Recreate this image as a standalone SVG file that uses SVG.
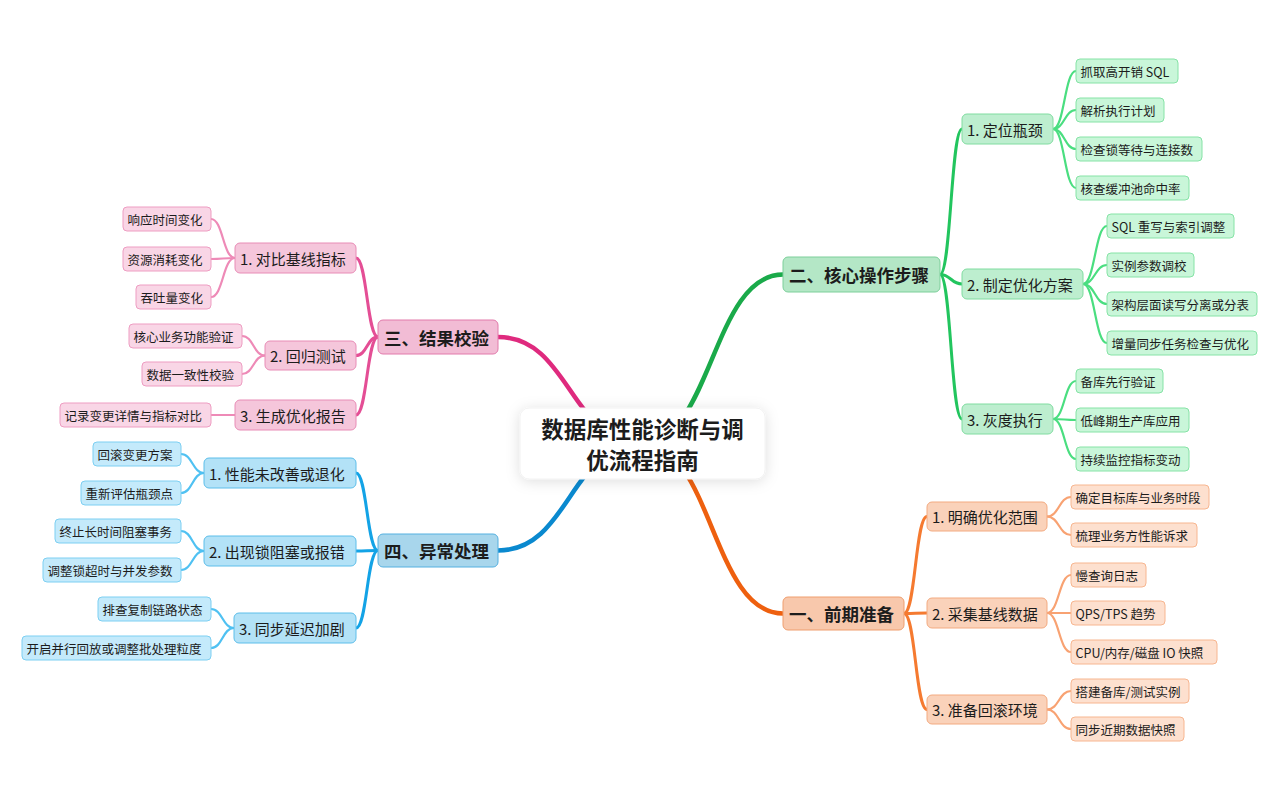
<svg xmlns="http://www.w3.org/2000/svg" width="1280" height="801" viewBox="0 0 1280 801">
<defs>
<filter id="sh" x="-20%" y="-40%" width="140%" height="180%">
<feDropShadow dx="0" dy="2" stdDeviation="7" flood-color="#000" flood-opacity="0.13"/>
</filter>
<style>
text{font-family:"Noto Sans CJK SC","Noto Sans",sans-serif;fill:#1c1c1c;text-anchor:start;dominant-baseline:central}
.t0{font-size:22.5px;font-weight:700;text-anchor:middle}
.t1{font-size:17.5px;font-weight:700}
.t2{font-size:15px}
.t3{font-size:12.5px}
rect{stroke-width:1}
path{fill:none;stroke-linecap:round}
.gm{stroke:#1aaa4a;stroke-width:4.5}.g2{stroke:#22c55e;stroke-width:3}.g3{stroke:#4ade80;stroke-width:2.2}
.om{stroke:#ee600f;stroke-width:4.5}.o2{stroke:#f57a30;stroke-width:3}.o3{stroke:#f8a272;stroke-width:2.2}
.pm{stroke:#df2a7e;stroke-width:4.5}.p2{stroke:#e44e95;stroke-width:3}.p3{stroke:#ee8ab7;stroke-width:2.2}
.bm{stroke:#0a89cf;stroke-width:4.5}.b2{stroke:#13a3e6;stroke-width:3}.b3{stroke:#4fc1f2;stroke-width:2.2}
.G1{fill:#b4e7c6;stroke:#7ccf9a}.G2{fill:#bdeecf;stroke:#80dca0}.G3{fill:#c9f6d9;stroke:#86e3a6}
.O1{fill:#f8c8ac;stroke:#ef9e6e}.O2{fill:#fad2ba;stroke:#f3aa80}.O3{fill:#fde0cf;stroke:#f7b690}
.P1{fill:#f2bcd5;stroke:#e27aab}.P2{fill:#f5c6db;stroke:#e88cb6}.P3{fill:#f9d6e6;stroke:#ee9dc2}
.B1{fill:#a8d6ec;stroke:#55b0e0}.B2{fill:#b3e2f7;stroke:#5cbeea}.B3{fill:#c4eafb;stroke:#7dcff2}
</style>
</defs>
<rect width="1280" height="801" fill="#ffffff"/>
<g id="connectors">
<path class="gm" d="M642,443 C712,443 712,274.5 783,274.5"/>
<path class="om" d="M642,443 C712,443 712,613.5 783,613.5"/>
<path class="pm" d="M642,443 C570,443 570,337 498,337"/>
<path class="bm" d="M642,443 C570,443 570,550.5 498,550.5"/>
<path class="g2" d="M940,274.5 C951,274.5 951,129 962,129"/>
<path class="g2" d="M940,274.5 C951,274.5 951,284 962,284"/>
<path class="g2" d="M940,274.5 C951,274.5 951,419 962,419"/>
<path class="g3" d="M1053,129 C1064.5,129 1064.5,71 1076,71"/>
<path class="g3" d="M1053,129 C1064.5,129 1064.5,110 1076,110"/>
<path class="g3" d="M1053,129 C1064.5,129 1064.5,149 1076,149"/>
<path class="g3" d="M1053,129 C1064.5,129 1064.5,188 1076,188"/>
<path class="g3" d="M1083,284 C1095,284 1095,226 1107,226"/>
<path class="g3" d="M1083,284 C1095,284 1095,265 1107,265"/>
<path class="g3" d="M1083,284 C1095,284 1095,304 1107,304"/>
<path class="g3" d="M1083,284 C1095,284 1095,343 1107,343"/>
<path class="g3" d="M1053,419 C1064.5,419 1064.5,381 1076,381"/>
<path class="g3" d="M1053,419 C1064.5,419 1064.5,420 1076,420"/>
<path class="g3" d="M1053,419 C1064.5,419 1064.5,459 1076,459"/>
<path class="o2" d="M904,613.5 C915.5,613.5 915.5,516.5 927,516.5"/>
<path class="o2" d="M904,613.5 C915.5,613.5 915.5,613 927,613"/>
<path class="o2" d="M904,613.5 C915.5,613.5 915.5,709.5 927,709.5"/>
<path class="o3" d="M1047,516.5 C1059,516.5 1059,497 1071,497"/>
<path class="o3" d="M1047,516.5 C1059,516.5 1059,535 1071,535"/>
<path class="o3" d="M1047,613 C1059,613 1059,575 1071,575"/>
<path class="o3" d="M1047,613 C1059,613 1059,613 1071,613"/>
<path class="o3" d="M1047,613 C1059,613 1059,652 1071,652"/>
<path class="o3" d="M1047,709.5 C1059,709.5 1059,691 1071,691"/>
<path class="o3" d="M1047,709.5 C1059,709.5 1059,729 1071,729"/>
<path class="p2" d="M378,337 C367,337 367,258 356,258"/>
<path class="p2" d="M378,337 C367,337 367,355.5 356,355.5"/>
<path class="p2" d="M378,337 C367,337 367,415 356,415"/>
<path class="p3" d="M235,258 C223,258 223,219 211,219"/>
<path class="p3" d="M235,258 C223,258 223,259 211,259"/>
<path class="p3" d="M235,258 C223,258 223,297 211,297"/>
<path class="p3" d="M265,355.5 C253.5,355.5 253.5,336 242,336"/>
<path class="p3" d="M265,355.5 C253.5,355.5 253.5,374 242,374"/>
<path class="p3" d="M235,415 C223,415 223,415 211,415"/>
<path class="b2" d="M378,550.5 C367,550.5 367,473 356,473"/>
<path class="b2" d="M378,550.5 C367,550.5 367,551 356,551"/>
<path class="b2" d="M378,550.5 C367,550.5 367,628 356,628"/>
<path class="b3" d="M204,473 C192.5,473 192.5,454 181,454"/>
<path class="b3" d="M204,473 C192.5,473 192.5,493 181,493"/>
<path class="b3" d="M204,551 C192.5,551 192.5,531 181,531"/>
<path class="b3" d="M204,551 C192.5,551 192.5,570 181,570"/>
<path class="b3" d="M234,628 C222.5,628 222.5,609 211,609"/>
<path class="b3" d="M234,628 C222.5,628 222.5,648 211,648"/>
</g>
<g id="root"><rect x="520" y="408" width="245" height="71" rx="9" fill="#ffffff" stroke="#f2f2f2" filter="url(#sh)"/><text class="t0" x="642.5" y="428">数据库性能诊断与调</text><text class="t0" x="642.5" y="459">优流程指南</text></g>

<g id="g0"><rect class="G1" x="783" y="257" width="157" height="35" rx="5"/><text class="t1" x="789" y="274.5">二、核心操作步骤</text></g>
<g id="g1"><rect class="G2" x="962" y="114" width="91" height="30" rx="5"/><text class="t2" x="967" y="129">1. 定位瓶颈</text></g>
<g id="g2"><rect class="G2" x="962" y="269" width="121" height="30" rx="5"/><text class="t2" x="967" y="284">2. 制定优化方案</text></g>
<g id="g3"><rect class="G2" x="962" y="404" width="91" height="30" rx="5"/><text class="t2" x="967" y="419">3. 灰度执行</text></g>
<g id="g1a"><rect class="G3" x="1076" y="59" width="102" height="24" rx="4"/><text class="t3" x="1080.5" y="71">抓取高开销 SQL</text></g>
<g id="g1b"><rect class="G3" x="1076" y="98" width="88" height="24" rx="4"/><text class="t3" x="1080.5" y="110">解析执行计划</text></g>
<g id="g1c"><rect class="G3" x="1076" y="137" width="126" height="24" rx="4"/><text class="t3" x="1080.5" y="149">检查锁等待与连接数</text></g>
<g id="g1d"><rect class="G3" x="1076" y="176" width="113" height="24" rx="4"/><text class="t3" x="1080.5" y="188">核查缓冲池命中率</text></g>
<g id="g2a"><rect class="G3" x="1107" y="214" width="127" height="24" rx="4"/><text class="t3" x="1111.5" y="226">SQL 重写与索引调整</text></g>
<g id="g2b"><rect class="G3" x="1107" y="253" width="87" height="24" rx="4"/><text class="t3" x="1111.5" y="265">实例参数调校</text></g>
<g id="g2c"><rect class="G3" x="1107" y="292" width="150" height="24" rx="4"/><text class="t3" x="1111.5" y="304">架构层面读写分离或分表</text></g>
<g id="g2d"><rect class="G3" x="1107" y="331" width="150" height="24" rx="4"/><text class="t3" x="1111.5" y="343">增量同步任务检查与优化</text></g>
<g id="g3a"><rect class="G3" x="1076" y="369" width="87" height="24" rx="4"/><text class="t3" x="1080.5" y="381">备库先行验证</text></g>
<g id="g3b"><rect class="G3" x="1076" y="408" width="113" height="24" rx="4"/><text class="t3" x="1080.5" y="420">低峰期生产库应用</text></g>
<g id="g3c"><rect class="G3" x="1076" y="447" width="113" height="24" rx="4"/><text class="t3" x="1080.5" y="459">持续监控指标变动</text></g>

<g id="o0"><rect class="O1" x="783" y="597" width="121" height="33" rx="5"/><text class="t1" x="789" y="613.5">一、前期准备</text></g>
<g id="o1"><rect class="O2" x="927" y="502" width="120" height="29" rx="5"/><text class="t2" x="932" y="516.5">1. 明确优化范围</text></g>
<g id="o2"><rect class="O2" x="927" y="598" width="120" height="30" rx="5"/><text class="t2" x="932" y="613">2. 采集基线数据</text></g>
<g id="o3"><rect class="O2" x="927" y="695" width="120" height="29" rx="5"/><text class="t2" x="932" y="709.5">3. 准备回滚环境</text></g>
<g id="o1a"><rect class="O3" x="1071" y="485" width="138" height="24" rx="4"/><text class="t3" x="1075.5" y="497">确定目标库与业务时段</text></g>
<g id="o1b"><rect class="O3" x="1071" y="523" width="126" height="24" rx="4"/><text class="t3" x="1075.5" y="535">梳理业务方性能诉求</text></g>
<g id="o2a"><rect class="O3" x="1071" y="563" width="75" height="24" rx="4"/><text class="t3" x="1075.5" y="575">慢查询日志</text></g>
<g id="o2b"><rect class="O3" x="1071" y="601" width="94" height="24" rx="4"/><text class="t3" x="1075.5" y="613">QPS/TPS 趋势</text></g>
<g id="o2c"><rect class="O3" x="1071" y="640" width="146" height="24" rx="4"/><text class="t3" x="1075.5" y="652">CPU/内存/磁盘 IO 快照</text></g>
<g id="o3a"><rect class="O3" x="1071" y="679" width="118" height="24" rx="4"/><text class="t3" x="1075.5" y="691">搭建备库/测试实例</text></g>
<g id="o3b"><rect class="O3" x="1071" y="717" width="113" height="24" rx="4"/><text class="t3" x="1075.5" y="729">同步近期数据快照</text></g>

<g id="p0"><rect class="P1" x="378" y="320" width="120" height="34" rx="5"/><text class="t1" x="384" y="337">三、结果校验</text></g>
<g id="p1"><rect class="P2" x="235" y="243" width="121" height="30" rx="5"/><text class="t2" x="240" y="258">1. 对比基线指标</text></g>
<g id="p2"><rect class="P2" x="265" y="341" width="91" height="29" rx="5"/><text class="t2" x="270" y="355.5">2. 回归测试</text></g>
<g id="p3"><rect class="P2" x="235" y="400" width="121" height="30" rx="5"/><text class="t2" x="240" y="415">3. 生成优化报告</text></g>
<g id="p1a"><rect class="P3" x="123" y="207" width="88" height="24" rx="4"/><text class="t3" x="127.5" y="219">响应时间变化</text></g>
<g id="p1b"><rect class="P3" x="123" y="247" width="88" height="24" rx="4"/><text class="t3" x="127.5" y="259">资源消耗变化</text></g>
<g id="p1c"><rect class="P3" x="136" y="285" width="75" height="24" rx="4"/><text class="t3" x="140.5" y="297">吞吐量变化</text></g>
<g id="p2a"><rect class="P3" x="129" y="324" width="113" height="24" rx="4"/><text class="t3" x="133.5" y="336">核心业务功能验证</text></g>
<g id="p2b"><rect class="P3" x="142" y="362" width="100" height="24" rx="4"/><text class="t3" x="146.5" y="374">数据一致性校验</text></g>
<g id="p3a"><rect class="P3" x="60" y="403" width="151" height="24" rx="4"/><text class="t3" x="64.5" y="415">记录变更详情与指标对比</text></g>

<g id="b0"><rect class="B1" x="378" y="534" width="120" height="33" rx="5"/><text class="t1" x="384" y="550.5">四、异常处理</text></g>
<g id="b1"><rect class="B2" x="204" y="458" width="152" height="30" rx="5"/><text class="t2" x="209" y="473">1. 性能未改善或退化</text></g>
<g id="b2"><rect class="B2" x="204" y="536" width="152" height="30" rx="5"/><text class="t2" x="209" y="551">2. 出现锁阻塞或报错</text></g>
<g id="b3"><rect class="B2" x="234" y="613" width="122" height="30" rx="5"/><text class="t2" x="239" y="628">3. 同步延迟加剧</text></g>
<g id="b1a"><rect class="B3" x="93" y="442" width="88" height="24" rx="4"/><text class="t3" x="97.5" y="454">回滚变更方案</text></g>
<g id="b1b"><rect class="B3" x="81" y="481" width="100" height="24" rx="4"/><text class="t3" x="85.5" y="493">重新评估瓶颈点</text></g>
<g id="b2a"><rect class="B3" x="55" y="519" width="126" height="24" rx="4"/><text class="t3" x="59.5" y="531">终止长时间阻塞事务</text></g>
<g id="b2b"><rect class="B3" x="43" y="558" width="138" height="24" rx="4"/><text class="t3" x="47.5" y="570">调整锁超时与并发参数</text></g>
<g id="b3a"><rect class="B3" x="98" y="597" width="113" height="24" rx="4"/><text class="t3" x="102.5" y="609">排查复制链路状态</text></g>
<g id="b3b"><rect class="B3" x="22" y="636" width="189" height="24" rx="4"/><text class="t3" x="26.5" y="648">开启并行回放或调整批处理粒度</text></g>
</svg>
